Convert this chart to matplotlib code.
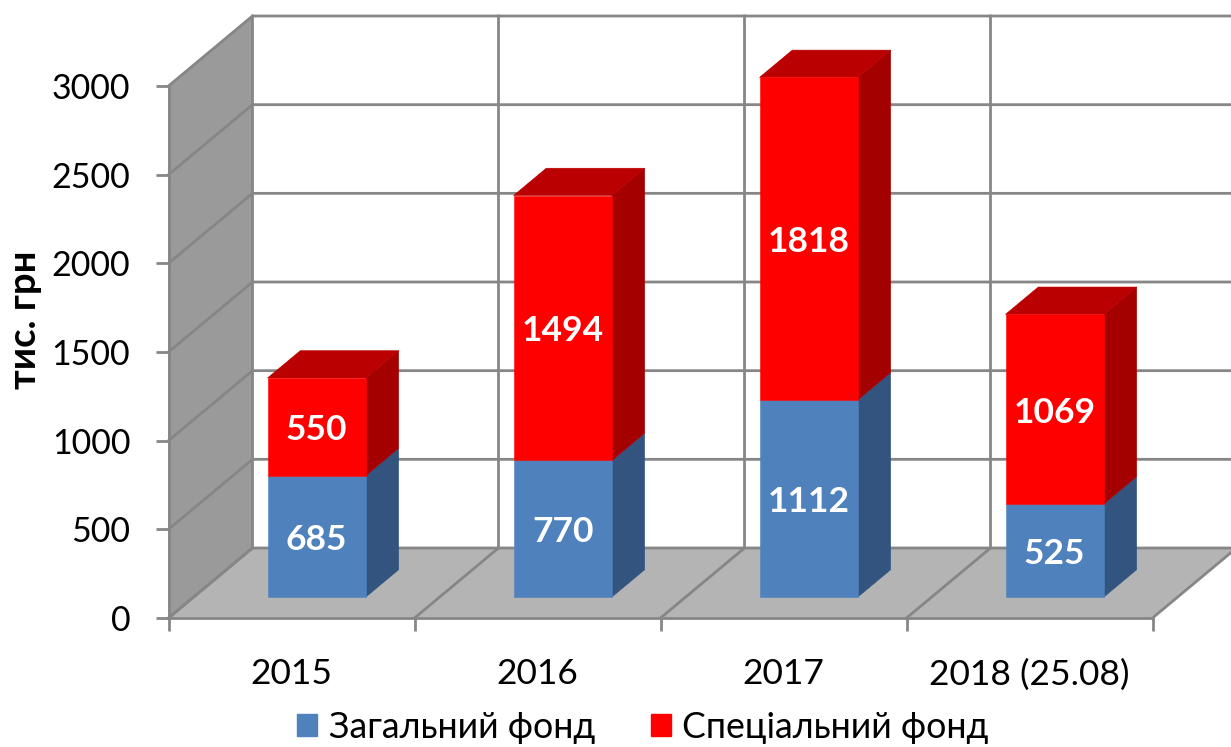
import matplotlib
matplotlib.use("Agg")
import matplotlib.pyplot as plt
from matplotlib.patches import Polygon, Patch

plt.rcParams['font.family'] = ['Lato', 'Noto Sans', 'DejaVu Sans']

categories = ["2015", "2016", "2017", "2018 (25.08)"]
general_fund = [685, 770, 1112, 525]
special_fund = [550, 1494, 1818, 1069]
y_ticks = [0, 500, 1000, 1500, 2000, 2500, 3000]
series_names = ["Загальний фонд", "Спеціальний фонд"]

# fake 3d: how far the back wall is shifted from the front plane (data units)
DX = 84 / 246
DY = 70 / (532 / 3000)
BAR_W = 0.4
D_FRONT = 0.3
D_BACK = 0.69

LINE = "#868686"


def pt(x, y, d=0):
    return (x + d * DX, y + d * DY)


def poly(ax, pts, color, z):
    ax.add_patch(Polygon(pts, closed=True, facecolor=color, edgecolor=color,
                         linewidth=0.4, zorder=z, clip_on=False))


def draw_segment(ax, x, y0, y1, front, side, z):
    l, r = x - BAR_W / 2, x + BAR_W / 2
    poly(ax, [pt(r, y0, D_FRONT), pt(r, y0, D_BACK), pt(r, y1, D_BACK), pt(r, y1, D_FRONT)], side, z)
    poly(ax, [pt(l, y0, D_FRONT), pt(r, y0, D_FRONT), pt(r, y1, D_FRONT), pt(l, y1, D_FRONT)], front, z + 0.1)


def bar_label(ax, x, y, val):
    ax.annotate(str(val), pt(x, y, D_FRONT), xytext=(0, -2.5), textcoords="offset points",
                color="white", fontsize=25.5, fontweight="bold",
                ha="center", va="center", zorder=5)


fig = plt.figure(figsize=(12.31, 7.47), dpi=100)
ax = fig.add_axes([168.5 / 1231, 1 - 618 / 747, 984 / 1231, 532 / 747])
ax.set_xlim(0, 4)
ax.set_ylim(0, 3000)

# walls and floor
poly(ax, [pt(0, 0), pt(0, 0, 1), pt(0, 3000, 1), pt(0, 3000)], "#9a9a9a", 1)
poly(ax, [pt(0, 0), pt(4, 0), pt(4, 0, 1), pt(0, 0, 1)], "#b4b4b4", 1)

# gridlines on the walls
for v in y_ticks:
    ax.plot(*zip(pt(0, v), pt(0, v, 1), pt(4, v, 1)), color=LINE, lw=2, zorder=2, clip_on=False)
for k in range(5):
    ax.plot(*zip(pt(k, 0), pt(k, 0, 1), pt(k, 3000, 1)), color=LINE, lw=2, zorder=2, clip_on=False)

# bars
for i, (g, s) in enumerate(zip(general_fund, special_fund)):
    x = i + 0.5
    draw_segment(ax, x, 0, g, "#4f81bd", "#33547f", 3)
    draw_segment(ax, x, g, g + s, "#ff0000", "#a50000", 3)
    l, r = x - BAR_W / 2, x + BAR_W / 2
    poly(ax, [pt(l, g + s, D_FRONT), pt(r, g + s, D_FRONT), pt(r, g + s, D_BACK), pt(l, g + s, D_BACK)], "#ba0000", 3)
    bar_label(ax, x, g / 2, g)
    bar_label(ax, x, g + s / 2, s)

for side in ["top", "right"]:
    ax.spines[side].set_visible(False)
for side in ["left", "bottom"]:
    ax.spines[side].set_color(LINE)
    ax.spines[side].set_linewidth(2)
    ax.spines[side].set_zorder(2)
ax.patch.set_visible(False)

ax.set_yticks(y_ticks)
ax.tick_params(axis="y", length=9.5, width=2, color=LINE, labelsize=24.5, pad=18)
ax.set_xticks(range(5))
ax.set_xticklabels([])
ax.tick_params(axis="x", which="major", length=9, width=2, color=LINE)
ax.set_xticks([i + 0.5 for i in range(4)], minor=True)
ax.set_xticklabels(categories, minor=True, fontsize=25.5)
ax.tick_params(axis="x", which="minor", length=0, pad=29)

fig.text(25 / 1231, 1 - 320 / 747, "тис. грн", rotation=90, fontsize=27.5, fontweight="bold",
         ha="center", va="center")

handles = [Patch(color="#4f81bd", label=series_names[0]), Patch(color="#ff0000", label=series_names[1])]
fig.legend(handles=handles, ncol=2, frameon=False, fontsize=25.7,
           loc="center", bbox_to_anchor=(643 / 1231, 1 - 727 / 747),
           handlelength=0.56, handleheight=0.56, handletextpad=0.31, columnspacing=1.57,
           borderpad=0, borderaxespad=0)

fig.savefig("out.png", dpi=100)
